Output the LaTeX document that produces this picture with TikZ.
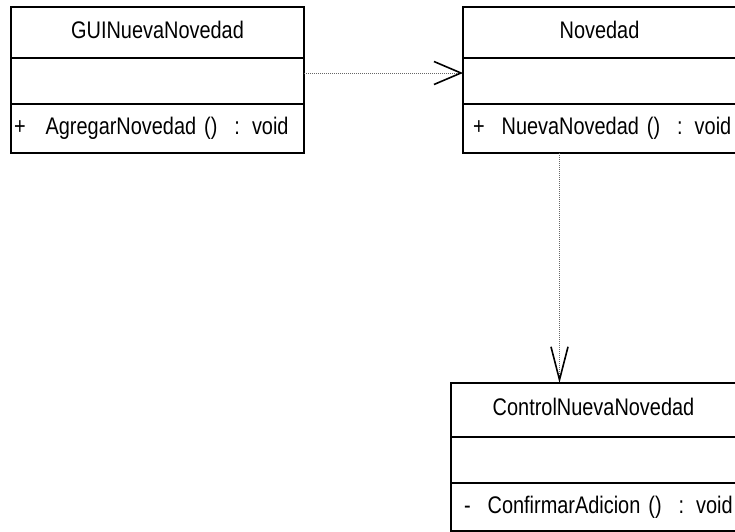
\documentclass[tikz,border=0pt]{standalone}
\usepackage{fontspec}
\setmainfont{Liberation Sans}[FakeStretch=0.83]
\usetikzlibrary{positioning,arrows.meta}
\newcommand{\optab}{\hspace{17pt}}

\tikzset{
  comp/.style={draw, line width=2pt, inner xsep=3pt, inner ysep=0pt, outer sep=0pt,
    minimum width=#1pt, font=\fontsize{24}{26}\selectfont},
  namecomp/.style={comp=#1, text height=17pt, text depth=6pt},
  opcomp/.style 2 args={comp=#1, text width=#2pt, align=left},
  dep/.style={draw=black!60, line width=0.7pt, dash pattern=on 1pt off 1pt},
}

\begin{document}
\begin{tikzpicture}[x=1pt, y=-1pt]
	\useasboundingbox (0,0) rectangle (735,531);
	%GUI
	\node[namecomp=293, minimum height=51pt, anchor=north west] (guiN) at (11,7) {GUINuevaNovedad};
	\node[comp=293, minimum height=46pt, below=0pt of guiN] (guiA) {};
	\node[opcomp={293}{287}, minimum height=49pt, below=0pt of guiA] (guiO) {+\hspace{20pt}AgregarNovedad ()\optab: void};
	%NOVEDAD
	\node[namecomp=273, minimum height=51pt, anchor=north west] (novN) at (463,7) {Novedad};
	\node[comp=273, minimum height=46pt, below=0pt of novN] (novA) {};
	\node[opcomp={273}{267}, minimum height=49pt, below=0pt of novA] (novO) {\hspace*{7pt}+\optab NuevaNovedad ()\optab: void};
	%CONTROL
	\node[namecomp=285, minimum height=54pt, anchor=north west] (ctlN) at (451,383) {ControlNuevaNovedad};
	\node[comp=285, minimum height=46pt, below=0pt of ctlN] (ctlA) {};
	\node[opcomp={285}{279}, minimum height=48pt, below=0pt of ctlA] (ctlO) {\hspace*{10pt}-\optab ConfirmarAdicion ()\optab: void};

	%DEPENDENCIES
	\draw[dep,-{Straight Barb[length=27pt,width=23pt,line width=1.6pt,color=black]}]
		([yshift=8pt]guiA.east) -- ([yshift=8pt]novA.west);
	\draw[dep,-{Straight Barb[length=33pt,width=17pt,line width=1.6pt,color=black]}]
		([xshift=-40pt]novO.south) -- ([xshift=-40pt]novO.south |- ctlN.north);
\end{tikzpicture}
\end{document}
